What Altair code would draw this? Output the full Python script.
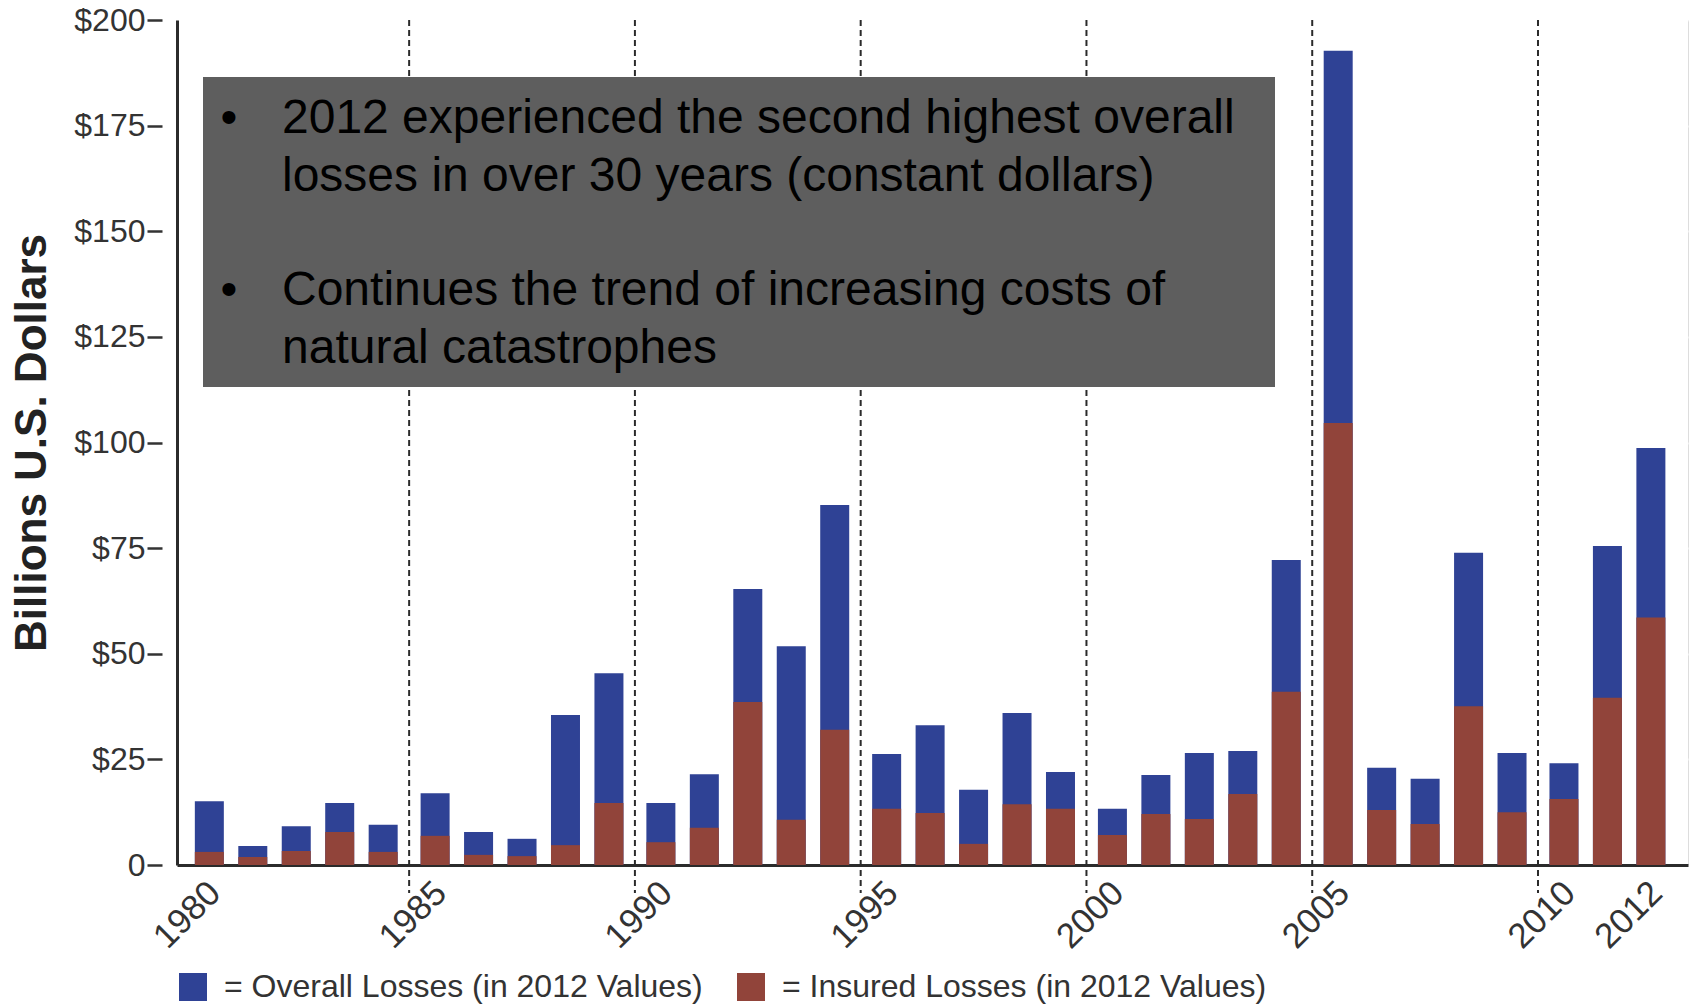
import altair as alt
import pandas as pd

# Natural catastrophe losses, billions of U.S. dollars (2012 values)
years = list(range(1980, 2013))
overall = [15.1, 4.5, 9.2, 14.7, 9.5, 17.0, 7.8, 6.2, 35.5, 45.4,
           14.7, 21.5, 65.3, 51.8, 85.2, 26.3, 33.1, 17.8, 36.0, 22.0,
           13.3, 21.3, 26.5, 27.0, 72.2, 192.7, 23.0, 20.4, 73.9, 26.5,
           24.1, 75.5, 98.7]
insured = [3.1, 1.9, 3.3, 7.8, 3.1, 6.9, 2.4, 2.1, 4.7, 14.7,
           5.4, 8.8, 38.6, 10.7, 32.0, 13.3, 12.3, 5.0, 14.4, 13.3,
           7.1, 12.1, 10.9, 16.8, 41.0, 104.6, 13.0, 9.7, 37.6, 12.5,
           15.6, 39.6, 58.6]

series_names = ["Overall Losses (in 2012 Values)", "Insured Losses (in 2012 Values)"]
series_colors = ["#2f4295", "#91443a"]

tick_years = [1980, 1985, 1990, 1995, 2000, 2005, 2010, 2012]
divider_years = [1985, 1990, 1995, 2000, 2005, 2010]
y_ticks = [0, 25, 50, 75, 100, 125, 150, 175, 200]

note_first = [
    "2012 experienced the second highest overall",
    "losses in over 30 years (constant dollars)",
]
note_second = [
    "Continues the trend of increasing costs of",
    "natural catastrophes",
]

FONT = "Liberation Sans"
GROUP_GAP = 0.195  # extra space between five-year groups, in bar slots


def slot(year):
    k = year - 1980
    return k + GROUP_GAP * (k // 5)


bars = pd.DataFrame({
    "year": years + years,
    "slot": [slot(y) for y in years] * 2,
    "series": [series_names[0]] * len(years) + [series_names[1]] * len(years),
    "value": overall + insured,
})

dividers = pd.DataFrame({
    "year": divider_years,
    "slot": [(slot(y - 1) + slot(y)) / 2 for y in divider_years],
})

x_scale = alt.Scale(domain=[-0.629, 33.909], nice=False, zero=False)
y_scale = alt.Scale(domain=[0, 200], nice=False)

year_label = (
    f"round(datum.value - {GROUP_GAP} * floor((datum.value + 0.5) / {5 + GROUP_GAP})) + 1980"
)

x_axis = alt.Axis(
    values=[slot(y) for y in tick_years],
    labelExpr=year_label,
    labelAngle=-45,
    labelAlign="right",
    labelBaseline="top",
    labelOffset=-7,
    labelFont=FONT,
    labelFontSize=35,
    labelColor="#333333",
    labelPadding=10,
    labelOverlap=False,
    labelFlush=False,
    ticks=False,
    grid=False,
    domainColor="#2b2b2b",
    domainWidth=3,
    title=None,
)

y_axis = alt.Axis(
    values=y_ticks,
    labelExpr="datum.value == 0 ? '0' : '$' + datum.value",
    labelFont=FONT,
    labelFontSize=32,
    labelColor="#333333",
    labelPadding=2,
    tickSize=30,
    tickDash=[0, 15, 15],
    tickColor="#333333",
    tickWidth=2.5,
    domainColor="#2b2b2b",
    domainWidth=3,
    grid=True,
    gridColor="#ffffff",
    gridWidth=2,
    gridOpacity=1,
    title="Billions U.S. Dollars",
    titleFont=FONT,
    titleFontSize=44,
    titleFontWeight="bold",
    titleColor="#222222",
    titleAngle=-90,
    titleX=-132,
    titleY=422.5,
    titleAlign="center",
    titleBaseline="alphabetic",
)

rules = alt.Chart(dividers).mark_rule(
    color="#2b2b2b", strokeWidth=2, strokeDash=[6, 4]
).encode(
    x=alt.X("slot:Q", scale=x_scale, axis=x_axis),
    y=alt.value(0),
    y2=alt.value(873),
)

bar_layer = alt.Chart(bars).mark_bar(size=29).encode(
    x=alt.X("slot:Q", scale=x_scale, axis=x_axis),
    y=alt.Y("value:Q", scale=y_scale, stack=None, axis=y_axis),
    color=alt.Color(
        "series:N",
        scale=alt.Scale(domain=series_names, range=series_colors),
        legend=alt.Legend(
            orient="none",
            legendX=0,
            legendY=951,
            direction="horizontal",
            columns=2,
            title=None,
            symbolType="square",
            symbolSize=784,
            symbolStrokeWidth=0,
            symbolOpacity=1,
            labelFont=FONT,
            labelFontSize=32,
            labelColor="#333333",
            labelOffset=15,
            labelLimit=1000,
            columnPadding=32,
            padding=0,
            labelExpr="'= ' + datum.label",
        ),
    ),
)

one_row = alt.Data(values=[{}])

note_box = alt.Chart(one_row).mark_rect(color="#5e5e5e").encode(
    x=alt.value(26), x2=alt.value(1098), y=alt.value(57), y2=alt.value(367)
)


def note_block(lines, top):
    text = alt.Chart(one_row).mark_text(
        text=lines, align="left", baseline="alphabetic", font=FONT,
        fontSize=48, lineHeight=57.5, color="#000000",
    ).encode(x=alt.value(105), y=alt.value(top))
    bullet = alt.Chart(one_row).mark_text(
        text="\u2022", align="center", baseline="alphabetic", font=FONT,
        fontSize=48, color="#000000",
    ).encode(x=alt.value(52), y=alt.value(top))
    return [text, bullet]


layers = [rules, bar_layer, note_box] + note_block(note_first, 113) + note_block(note_second, 285)

chart = alt.layer(*layers).properties(
    width=1511,
    height=845,
    padding={"left": 177, "top": 20, "right": 6, "bottom": 140},
    autosize=alt.AutoSizeParams(type="none"),
    background="#ffffff",
).configure_view(
    fill="#e8e7d7", strokeWidth=0
).configure(font=FONT)

chart.save("out.html", embed_options={"renderer": "svg", "actions": False})
